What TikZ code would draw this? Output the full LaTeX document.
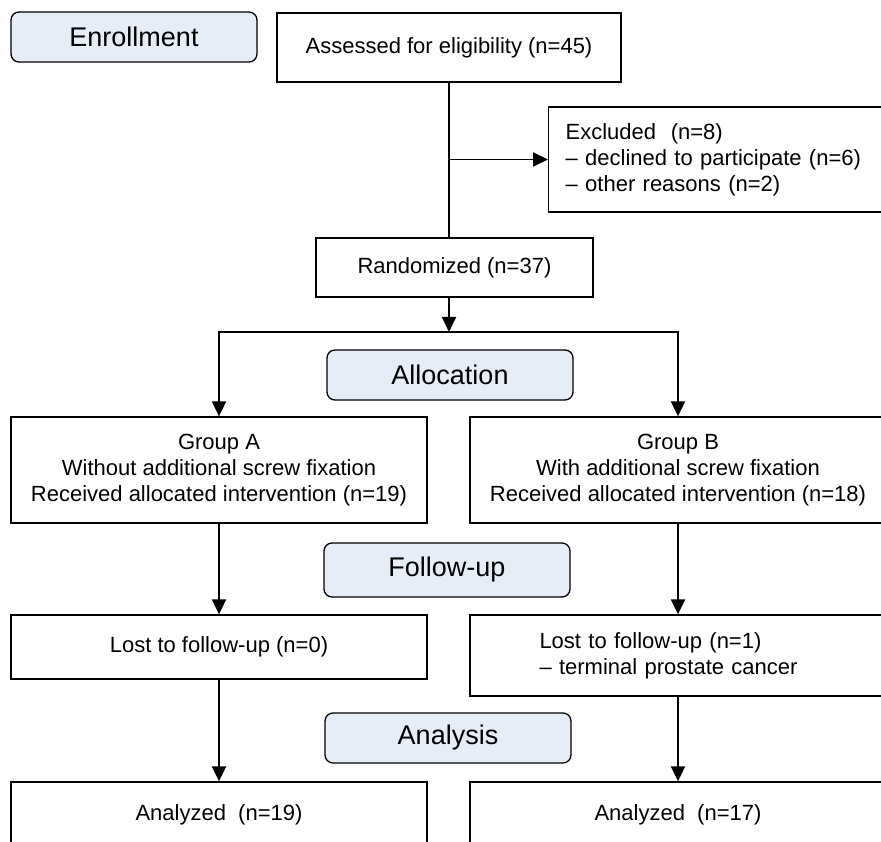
\documentclass[tikz,border=0pt]{standalone}
\usepackage{fontspec}
\setmainfont{Liberation Sans}
\usetikzlibrary{arrows.meta}

\definecolor{phasefill}{HTML}{E7EDF7}
\tikzset{
	phasebox/.style={draw, rounded corners=8pt, fill=phasefill, line width=1.3pt,
		minimum width=246pt, minimum height=50pt, font=\fontsize{27}{32}\selectfont},
	countbox/.style={draw, line width=1.3pt, align=center, font=\fontsize{22}{26}\selectfont},
}

\begin{document}
\begin{tikzpicture}[x=1pt, y=-1pt, >={Triangle[length=15pt,width=14pt]}, line width=1.9pt]
		\useasboundingbox (0,0) rectangle (881,842);
		\clip (0,0) rectangle (881,842);

		\node[phasebox] (enrol)  at (134,37)    {Enrollment};
		\node[phasebox] (alloc)  at (450,375)   {Allocation};
		\node[phasebox, minimum height=54pt] (follow) at (447,570) {Follow-up};
		\node[phasebox] (analys) at (448,738)   {Analysis};

		\node[countbox, minimum width=344pt, minimum height=69pt] (assess) at (449,47.5) {Assessed for eligibility (n=45)};
		\node[countbox, anchor=west, align=left, text width=320pt, inner xsep=17pt, minimum height=105pt] (excl) at (548,159.5)
			{Excluded~~(n=8)\\– declined to participate (n=6)\\– other reasons (n=2)};
		\node[countbox, minimum width=277pt, minimum height=59pt] (random) at (454.5,267.5) {Randomized (n=37)};

		\node[countbox, minimum width=416pt, minimum height=106pt] (groupA) at (219,470)
			{Group A\\Without additional screw fixation\\Received allocated intervention (n=19)};
		\node[countbox, minimum width=416pt, minimum height=106pt] (groupB) at (678,470)
			{Group B\\With additional screw fixation\\Received allocated intervention (n=18)};

		\node[countbox, minimum width=416pt, minimum height=64pt] (lostA) at (219,647) {Lost to follow-up (n=0)};
		\node[countbox, align=left, text width=277pt, inner xsep=69.5pt, minimum height=81pt] (lostB) at (678,655.5)
			{Lost to follow-up (n=1)\\– terminal prostate cancer};

		\node[countbox, minimum width=416pt, minimum height=66pt] (anA) at (219,815) {Analyzed~~(n=19)};
		\node[countbox, minimum width=416pt, minimum height=66pt] (anB) at (678,815) {Analyzed~~(n=17)};

		\coordinate (split) at (449,332);

		\draw (assess.south) -- (assess.south |- random.north);
		\draw[->] (assess.south |- excl.west) -- (excl.west);
		\draw[->] (assess.south |- random.south) -- (split);
		\draw[<->] (groupA.north) -- (groupA.north |- split) -- (groupB.north |- split) -- (groupB.north);

		\path[->] (groupA) edge (lostA);
		\path[->] (groupB) edge (lostB);
		\path[->] (lostA) edge (anA);
		\path[->] (lostB) edge (anB);
	\end{tikzpicture}
\end{document}
